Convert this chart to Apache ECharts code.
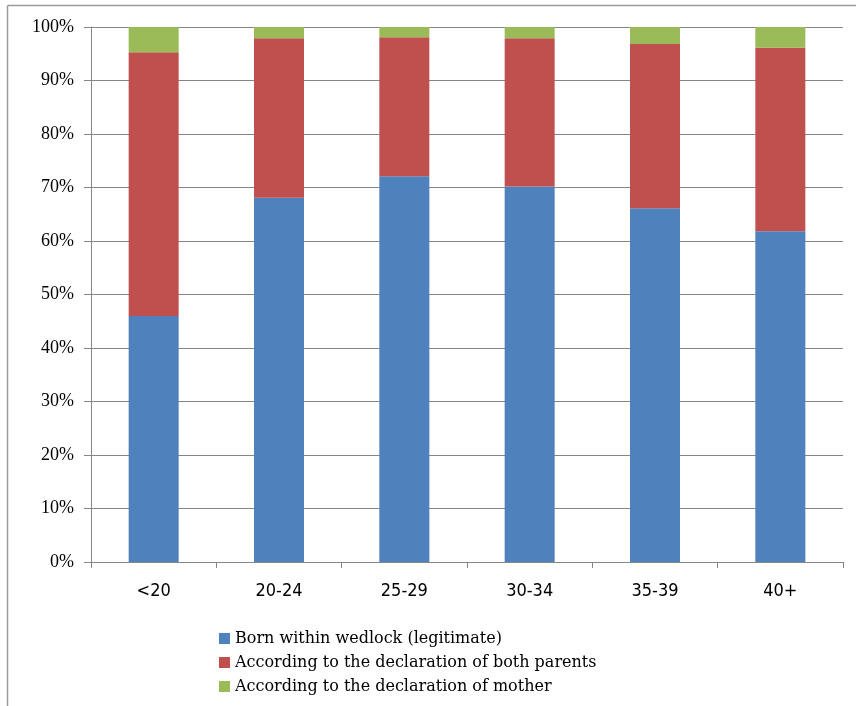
<!DOCTYPE html>
<html>
<head>
<meta charset="utf-8">
<script src="https://cdn.jsdelivr.net/npm/echarts@6/dist/echarts.min.js"></script>
<style>
  html, body { margin: 0; padding: 0; background: #fff; }
  #chart { width: 856px; height: 706px; }
</style>
</head>
<body>
<div id="chart"></div>
<script>
// Age groups of the mother
const categories = ['<20', '20-24', '25-29', '30-34', '35-39', '40+'];

// Share of births (%) by recognition status
const seriesNames = [
  'Born within wedlock (legitimate)',
  'According to the declaration of both parents',
  'According to the declaration of mother'
];
const legitimate = [46.0, 68.1, 72.1, 70.2, 66.1, 61.8];
const bothParents = [49.3, 29.8, 26.0, 27.7, 30.7, 34.3];
const motherOnly = [4.7, 2.1, 1.9, 2.1, 3.2, 3.9];

// Value axis tick labels
const yTicks = ['0%', '10%', '20%', '30%', '40%', '50%', '60%', '70%', '80%', '90%', '100%'];

const colors = ['#4F81BD', '#C0504D', '#9BBB59'];
const values = [legitimate, bothParents, motherOnly];

const chart = echarts.init(document.getElementById('chart'), null, { renderer: 'canvas' });

chart.setOption({
  animation: false,
  backgroundColor: '#ffffff',
  graphic: [
    { type: 'line', shape: { x1: 7.5, y1: 5.5, x2: 856, y2: 5.5 }, style: { stroke: '#9a9a9a', lineWidth: 1.5 } },
    { type: 'line', shape: { x1: 7.5, y1: 5.5, x2: 7.5, y2: 706 }, style: { stroke: '#9a9a9a', lineWidth: 1.5 } }
  ],
  grid: { left: 91, right: 13, top: 27, bottom: 144, containLabel: false },
  legend: {
    orient: 'vertical',
    left: 214,
    top: 625,
    itemWidth: 11,
    itemHeight: 11,
    itemGap: 7,
    icon: 'rect',
    data: seriesNames,
    textStyle: { fontFamily: 'DejaVu Serif', fontSize: 16, lineHeight: 17, color: '#000' }
  },
  xAxis: {
    type: 'category',
    data: categories,
    axisLine: { lineStyle: { color: '#868686', width: 1 } },
    axisTick: { show: true, length: 6, alignWithLabel: false, lineStyle: { color: '#868686' } },
    axisLabel: {
      margin: 20,
      fontFamily: '"Liberation Sans Narrow", "DejaVu Sans Condensed", sans-serif',
      fontSize: 18,
      color: '#000'
    }
  },
  yAxis: {
    type: 'value',
    min: 0,
    max: 100,
    interval: 10,
    axisLine: { show: true, lineStyle: { color: '#868686', width: 1 } },
    axisTick: { show: true, length: 7, lineStyle: { color: '#868686' } },
    splitLine: { show: true, lineStyle: { color: '#868686', width: 1 } },
    axisLabel: {
      margin: 17,
      fontFamily: 'Liberation Serif',
      fontSize: 18,
      color: '#000',
      formatter: (v) => yTicks[Math.round(v / 10)]
    }
  },
  series: seriesNames.map((name, i) => ({
    name,
    type: 'bar',
    stack: 'total',
    barWidth: 50,
    data: values[i],
    itemStyle: { color: colors[i] }
  }))
});
</script>
</body>
</html>
